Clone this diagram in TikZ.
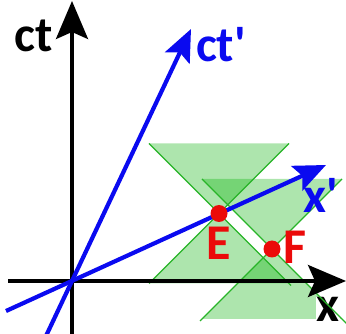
\documentclass[tikz,border=0pt]{standalone}
\usepackage{fontspec}
\newfontfamily\lab{Carlito}[Ligatures=TeXOff]
\usetikzlibrary{arrows.meta}
\definecolor{cone}{RGB}{0,175,0}
\definecolor{coneline}{RGB}{40,180,40}
\definecolor{myblue}{RGB}{10,10,240}
\definecolor{myred}{RGB}{235,10,10}
\begin{document}
\begin{tikzpicture}[x=1pt,y=-1pt,
  lbl/.style={inner sep=0pt, anchor=base, font=\lab\bfseries\fontsize{50}{60}\selectfont},
  conefill/.style={fill=cone, fill opacity=0.32, draw=none},
  coneedge/.style={draw=coneline, line width=1.2pt},
  axisline/.style={line width=3.4pt, -{Stealth[length=38pt,width=32pt,inset=7pt]}},
  primeline/.style={draw=myblue, line width=4.2pt, -{Stealth[length=32pt,width=27pt,inset=6pt]}},
  event/.style={circle, fill=myred, minimum size=17pt, inner sep=0pt}
]
\useasboundingbox (0,0) rectangle (346,334);
\coordinate (O) at (72,281);
\coordinate (Ec) at (219,213.5);
\coordinate (Fc) at (272,249);
% light cones (fills)
\fill[conefill] (Ec) -- ++(-70,-70) -- ++(140,0) -- cycle;
\fill[conefill] (Ec) -- ++(-70,70) -- ++(140,0) -- cycle;
\fill[conefill] (Fc) -- ++(-70,-70) -- ++(140,0) -- cycle;
\fill[conefill] (Fc) -- ++(-70,70) -- ++(140,0) -- cycle;
% x label with white background
\node[lbl, fill=white, inner sep=1pt] (lx) at (328,322) {x};
% light cone edges
\draw[coneedge] ([shift={(-70,-70)}]Ec) -- ([shift={(72,72)}]Ec);
\draw[coneedge] ([shift={(70,-70)}]Ec) -- ([shift={(-70,70)}]Ec);
\draw[coneedge] ([shift={(-70,-70)}]Fc) -- ([shift={(85,85)}]Fc);
\draw[coneedge] ([shift={(70,-70)}]Fc) -- ([shift={(-72,72)}]Fc);
% axes
\coordinate (xs) at (8,281);
\coordinate (xe) at (346,281);
\coordinate (ts) at (72,336);
\coordinate (te) at (72,1);
\draw[axisline] (xs) -- (xe);
\draw[axisline] (ts) -- (te);
% primed axes
\coordinate (cps) at (46,336);
\coordinate (cpe) at (191,29);
\coordinate (xps) at (6,311);
\coordinate (xpe) at (326,165);
\draw[primeline] (cps) -- (cpe);
\draw[primeline] (xps) -- (xpe);
% events
\node[event] (dotE) at (Ec) {};
\node[event] (dotF) at (Fc) {};
% labels
\node[lbl] (lct) at (33.5,52) {ct};
\node[lbl, text=myblue] (lctp) at (221,62) {ct'};
\node[lbl, text=myblue] (lxp) at (321,213) {x'};
\node[lbl, text=myred] (lE) at (219,260) {E};
\node[lbl, text=myred] (lF) at (295,264) {F};
\end{tikzpicture}
\end{document}
